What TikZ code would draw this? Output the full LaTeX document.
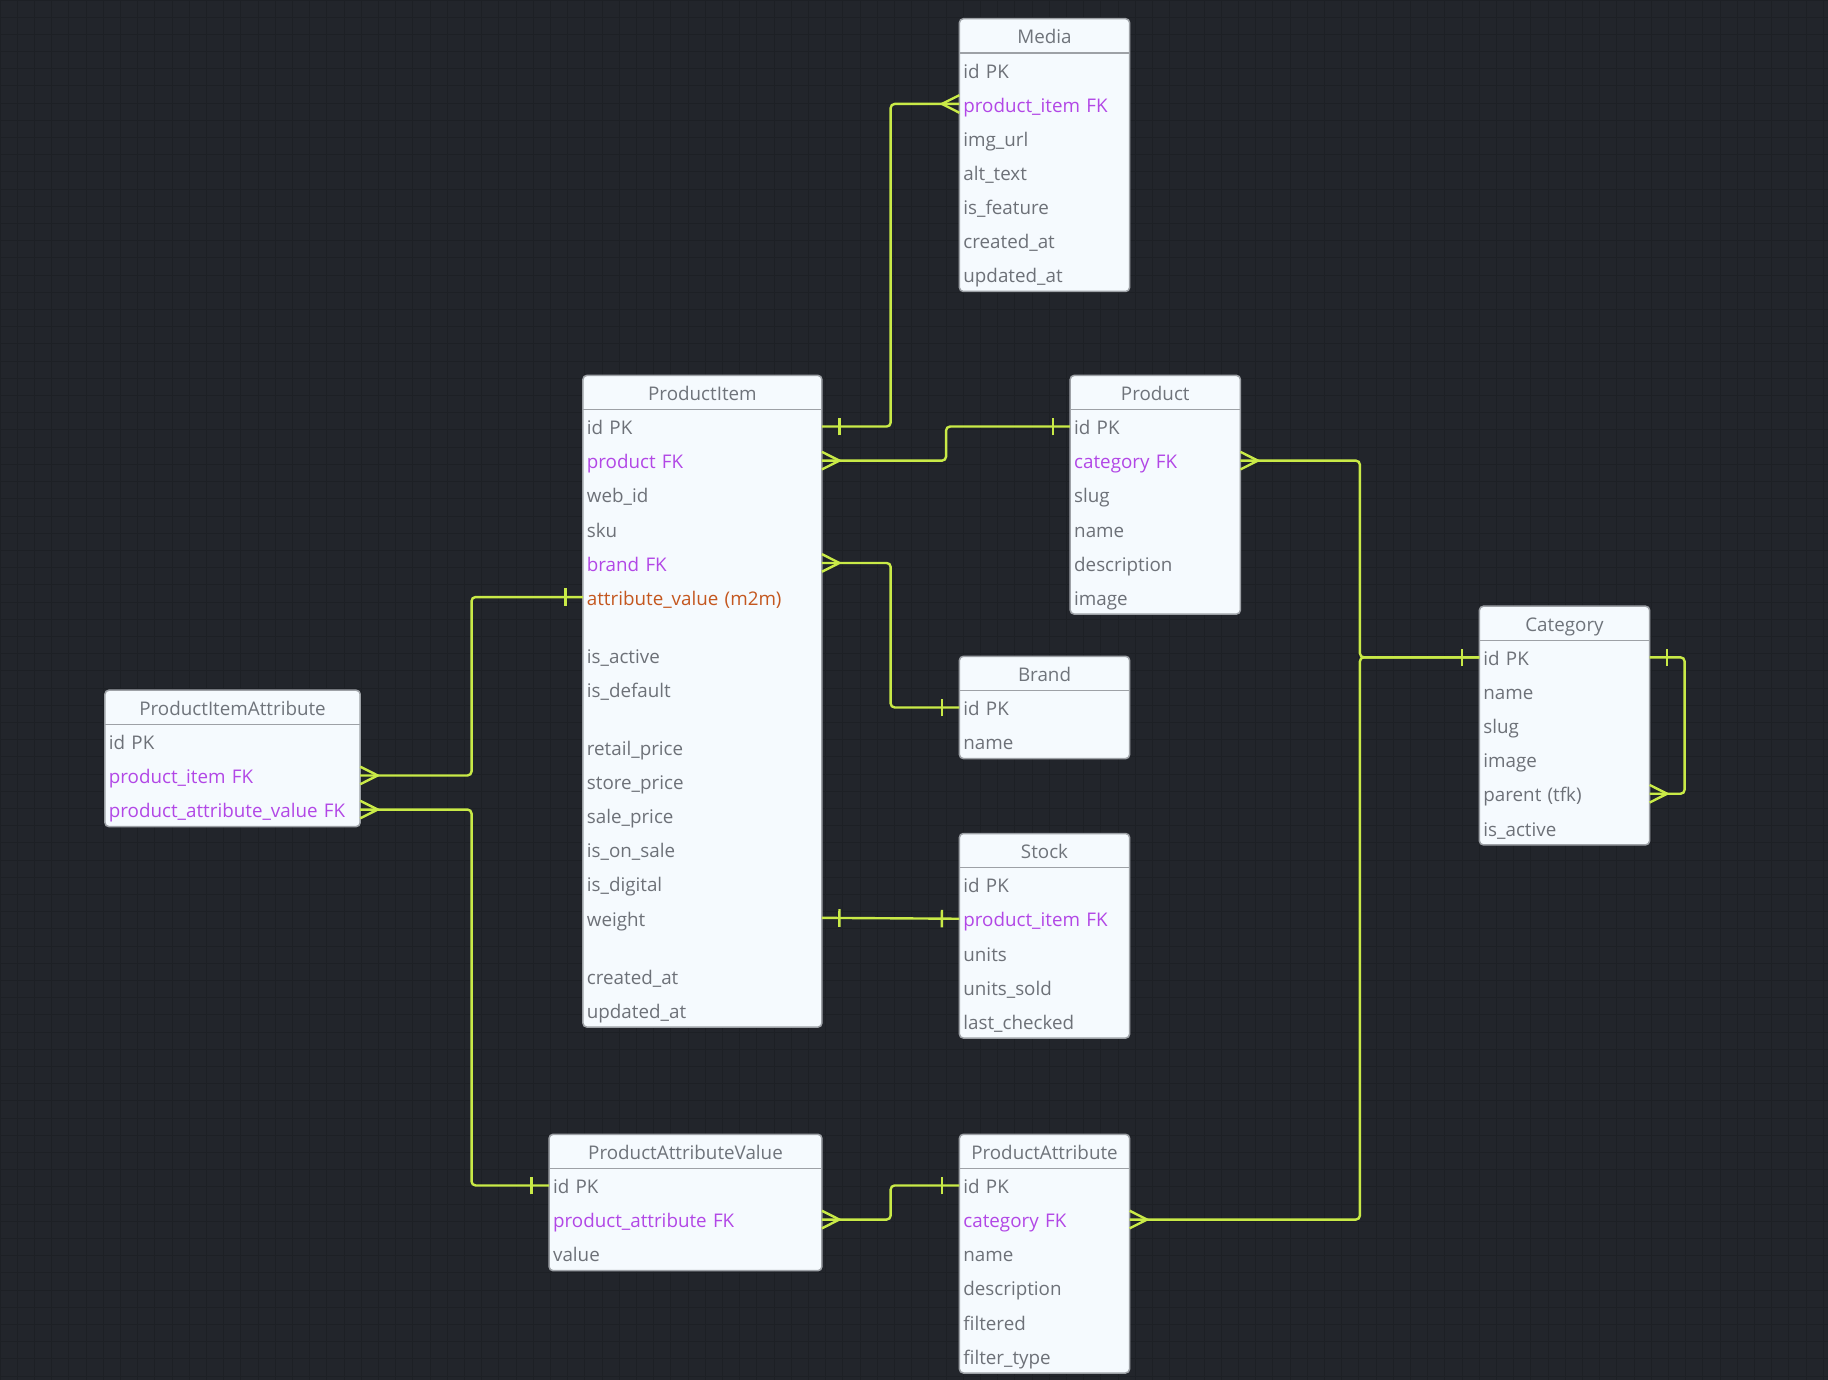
\documentclass[tikz,border=0pt]{standalone}
\usepackage{fontspec}
\setmainfont{Open Sans}
\usetikzlibrary{positioning,calc,decorations.markings}

\definecolor{canvas}{HTML}{22252B}
\definecolor{gridline}{HTML}{1D2025}
\definecolor{boxfill}{HTML}{F5FAFE}
\definecolor{boxline}{HTML}{9DA1A6}
\definecolor{headtext}{HTML}{6F747B}
\definecolor{fieldtext}{HTML}{6D7178}
\definecolor{fkcolor}{HTML}{B247E6}
\definecolor{m2mcolor}{HTML}{C4571F}
\definecolor{linkcolor}{HTML}{C9EA47}

\pgfdeclarelayer{grid}
\pgfdeclarelayer{back}
\pgfsetlayers{grid,back,main}

\tikzstyle{tablehead} = [anchor=north west, minimum height=17.05pt, inner xsep=2pt, inner ysep=0pt, outer sep=0pt, text height=8.2pt, text depth=0pt, align=center, text=headtext, font=\fontsize{9.4pt}{11pt}\selectfont]
\tikzstyle{tablerow} = [minimum height=17.05pt, inner xsep=2pt, inner ysep=0pt, outer sep=0pt, text height=8.2pt, text depth=0pt, align=left, text=fieldtext, font=\fontsize{9.4pt}{11pt}\selectfont]
\tikzstyle{fk} = [text=fkcolor]
\tikzstyle{m2m} = [text=m2mcolor]
\tikzstyle{tablebox} = [fill=boxfill, draw=boxline, line width=0.75pt, rounded corners=2pt]
\tikzstyle{headrule} = [draw=boxline, line width=0.75pt]
\tikzstyle{link} = [draw=linkcolor, line width=1.2pt, rounded corners=2pt]
\tikzstyle{one start} = [postaction={decorate, decoration={markings, mark=at position 8.75pt with {\draw[link] (0pt,-4.4pt) -- (0pt,4.4pt);}}}]
\tikzstyle{one end} = [postaction={decorate, decoration={markings, mark=at position -8.75pt with {\draw[link] (0pt,-4.4pt) -- (0pt,4.4pt);}}}]
\tikzstyle{many start} = [postaction={decorate, decoration={markings, mark=at position 8.75pt with {\draw[link, sharp corners] (-8.75pt,-4.4pt) -- (0pt,0pt) -- (-8.75pt,4.4pt);}}}]
\tikzstyle{many end} = [postaction={decorate, decoration={markings, mark=at position -8.75pt with {\draw[link, sharp corners] (8.75pt,-4.4pt) -- (0pt,0pt) -- (8.75pt,4.4pt);}}}]

\begin{document}
\begin{tikzpicture}[x=0.5pt, y=-0.5pt]

    \useasboundingbox (0,0) rectangle (1828,1380);
    \begin{pgfonlayer}{grid}
        \fill[canvas] (0,0) rectangle (1828,1380);
        \draw[gridline, line width=0.5pt, step=8.6pt] (0pt,-690pt) grid (914pt,0pt);
    \end{pgfonlayer}

    % Media
    \begin{scope}[nodes={text width=81.1pt}]
        \node (media) [tablehead] at (959.4,18.7) {Media};
        \node (media-id) [tablerow, below=0pt of media] {id PK};
        \node (media-pitem) [tablerow, fk, below=0pt of media-id] {product\_item FK};
        \node (media-url) [tablerow, below=0pt of media-pitem] {img\_url};
        \node (media-alt) [tablerow, below=0pt of media-url] {alt\_text};
        \node (media-feat) [tablerow, below=0pt of media-alt] {is\_feature};
        \node (media-cre) [tablerow, below=0pt of media-feat] {created\_at};
        \node (media-upd) [tablerow, below=0pt of media-cre] {updated\_at};
    \end{scope}

    % ProductItem
    \begin{scope}[nodes={text width=115.5pt}]
        \node (pi) [tablehead] at (582.9,375.4) {ProductItem};
        \node (pi-id) [tablerow, below=0pt of pi] {id PK};
        \node (pi-prod) [tablerow, fk, below=0pt of pi-id] {product FK};
        \node (pi-web) [tablerow, below=0pt of pi-prod] {web\_id};
        \node (pi-sku) [tablerow, below=0pt of pi-web] {sku};
        \node (pi-brand) [tablerow, fk, below=0pt of pi-sku] {brand FK};
        \node (pi-attr) [tablerow, m2m, below=0pt of pi-brand] {attribute\_value (m2m)};
        \node (pi-active) [tablerow, below=12pt of pi-attr] {is\_active};
        \node (pi-default) [tablerow, below=0pt of pi-active] {is\_default};
        \node (pi-retail) [tablerow, below=12pt of pi-default] {retail\_price};
        \node (pi-store) [tablerow, below=0pt of pi-retail] {store\_price};
        \node (pi-sale) [tablerow, below=0pt of pi-store] {sale\_price};
        \node (pi-onsale) [tablerow, below=0pt of pi-sale] {is\_on\_sale};
        \node (pi-digital) [tablerow, below=0pt of pi-onsale] {is\_digital};
        \node (pi-weight) [tablerow, below=0pt of pi-digital] {weight};
        \node (pi-cre) [tablerow, below=12pt of pi-weight] {created\_at};
        \node (pi-upd) [tablerow, below=0pt of pi-cre] {updated\_at};
    \end{scope}

    % Product
    \begin{scope}[nodes={text width=81.1pt}]
        \node (prod) [tablehead] at (1070.2,375.4) {Product};
        \node (prod-id) [tablerow, below=0pt of prod] {id PK};
        \node (prod-cat) [tablerow, fk, below=0pt of prod-id] {category FK};
        \node (prod-slug) [tablerow, below=0pt of prod-cat] {slug};
        \node (prod-name) [tablerow, below=0pt of prod-slug] {name};
        \node (prod-desc) [tablerow, below=0pt of prod-name] {description};
        \node (prod-img) [tablerow, below=0pt of prod-desc] {image};
    \end{scope}

    % Category
    \begin{scope}[nodes={text width=81.1pt}]
        \node (cat) [tablehead] at (1479.4,606.2) {Category};
        \node (cat-id) [tablerow, below=0pt of cat] {id PK};
        \node (cat-name) [tablerow, below=0pt of cat-id] {name};
        \node (cat-slug) [tablerow, below=0pt of cat-name] {slug};
        \node (cat-img) [tablerow, below=0pt of cat-slug] {image};
        \node (cat-parent) [tablerow, below=0pt of cat-img] {parent (tfk)};
        \node (cat-active) [tablerow, below=0pt of cat-parent] {is\_active};
    \end{scope}

    % Brand
    \begin{scope}[nodes={text width=81.1pt}]
        \node (brand) [tablehead] at (959.4,656.3) {Brand};
        \node (brand-id) [tablerow, below=0pt of brand] {id PK};
        \node (brand-name) [tablerow, below=0pt of brand-id] {name};
    \end{scope}

    % Stock
    \begin{scope}[nodes={text width=81.1pt}]
        \node (stock) [tablehead] at (959.4,833.5) {Stock};
        \node (stock-id) [tablerow, below=0pt of stock] {id PK};
        \node (stock-pitem) [tablerow, fk, below=0pt of stock-id] {product\_item FK};
        \node (stock-units) [tablerow, below=0pt of stock-pitem] {units};
        \node (stock-sold) [tablerow, below=0pt of stock-units] {units\_sold};
        \node (stock-checked) [tablerow, below=0pt of stock-sold] {last\_checked};
    \end{scope}

    % ProductItemAttribute
    \begin{scope}[nodes={text width=123.65pt}]
        \node (pia) [tablehead] at (104.9,690.2) {ProductItemAttribute};
        \node (pia-id) [tablerow, below=0pt of pia] {id PK};
        \node (pia-pitem) [tablerow, fk, below=0pt of pia-id] {product\_item FK};
        \node (pia-pav) [tablerow, fk, below=0pt of pia-pitem] {product\_attribute\_value FK};
    \end{scope}

    % ProductAttributeValue
    \begin{scope}[nodes={text width=132.4pt}]
        \node (pav) [tablehead] at (549.1,1134.3) {ProductAttributeValue};
        \node (pav-id) [tablerow, below=0pt of pav] {id PK};
        \node (pav-pattr) [tablerow, fk, below=0pt of pav-id] {product\_attribute FK};
        \node (pav-val) [tablerow, below=0pt of pav-pattr] {value};
    \end{scope}

    % ProductAttribute
    \begin{scope}[nodes={text width=81.1pt}]
        \node (pa) [tablehead] at (959.4,1134.3) {ProductAttribute};
        \node (pa-id) [tablerow, below=0pt of pa] {id PK};
        \node (pa-cat) [tablerow, fk, below=0pt of pa-id] {category FK};
        \node (pa-name) [tablerow, below=0pt of pa-cat] {name};
        \node (pa-desc) [tablerow, below=0pt of pa-name] {description};
        \node (pa-filt) [tablerow, below=0pt of pa-desc] {filtered};
        \node (pa-type) [tablerow, below=0pt of pa-filt] {filter\_type};
    \end{scope}

    % table frames
    \begin{pgfonlayer}{back}
        \draw[tablebox] (media.north west) rectangle (media-upd.south east);
        \draw[headrule] (media.south west) -- (media.south east);
        \draw[tablebox] (pi.north west) rectangle (pi-upd.south east);
        \draw[headrule] (pi.south west) -- (pi.south east);
        \draw[tablebox] (prod.north west) rectangle (prod-img.south east);
        \draw[headrule] (prod.south west) -- (prod.south east);
        \draw[tablebox] (cat.north west) rectangle (cat-active.south east);
        \draw[headrule] (cat.south west) -- (cat.south east);
        \draw[tablebox] (brand.north west) rectangle (brand-name.south east);
        \draw[headrule] (brand.south west) -- (brand.south east);
        \draw[tablebox] (stock.north west) rectangle (stock-checked.south east);
        \draw[headrule] (stock.south west) -- (stock.south east);
        \draw[tablebox] (pia.north west) rectangle (pia-pav.south east);
        \draw[headrule] (pia.south west) -- (pia.south east);
        \draw[tablebox] (pav.north west) rectangle (pav-val.south east);
        \draw[headrule] (pav.south west) -- (pav.south east);
        \draw[tablebox] (pa.north west) rectangle (pa-type.south east);
        \draw[headrule] (pa.south west) -- (pa.south east);
    \end{pgfonlayer}

    % relations
    \coordinate (catbus) at ($(prod-cat.east)!.5!(cat-id.west)$);
    \coordinate (pbus) at ($(pia-pitem.east)!.5!(pi-attr.west)$);

    \draw [link, one start, many end] (pi-id.east) -| ($(pi-id.east)!.5!(media-pitem.west)$) |- (media-pitem.west);
    \draw [link, many start, one end] (pi-prod.east) -| ($(pi-prod.east)!.5!(prod-id.west)$) |- (prod-id.west);
    \draw [link, many start, one end] (pi-brand.east) -| ($(pi-brand.east)!.5!(brand-id.west)$) |- (brand-id.west);
    \draw [link, one start, one end] (pi-weight.east) -- (stock-pitem.west);
    \draw [link, many start, one end] (prod-cat.east) -- (prod-cat.east -| catbus) |- (cat-id.west);
    \draw [link, many start, one end] (pa-cat.east) -- (pa-cat.east -| catbus) |- (cat-id.west);
    \draw [link, one start, many end] (cat-id.east) -- ++(35,0) |- (cat-parent.east);
    \draw [link, many start, one end] (pia-pitem.east) -- (pia-pitem.east -| pbus) |- (pi-attr.west);
    \draw [link, many start, one end] (pia-pav.east) -- (pia-pav.east -| pbus) |- (pav-id.west);
    \draw [link, many start, one end] (pav-pattr.east) -| ($(pav-pattr.east)!.5!(pa-id.west)$) |- (pa-id.west);

\end{tikzpicture}
\end{document}
